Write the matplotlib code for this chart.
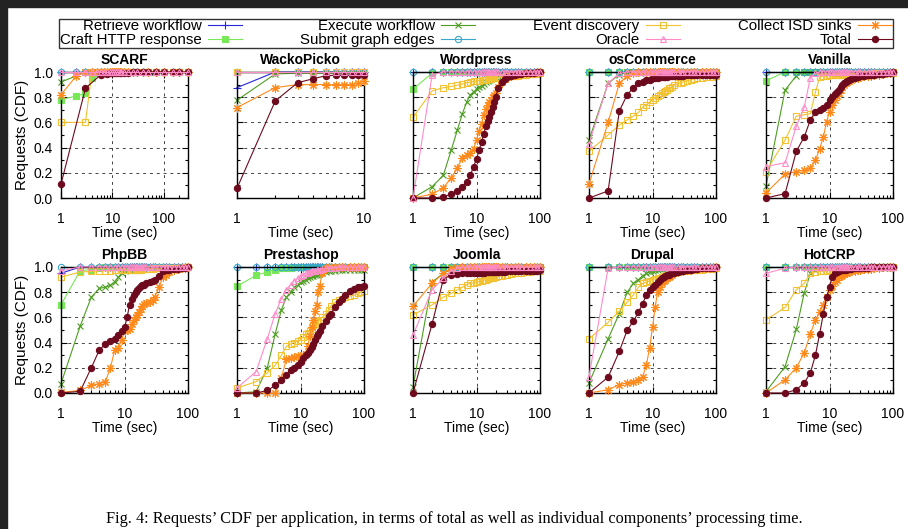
import numpy as np
import matplotlib.pyplot as plt
import matplotlib.ticker as ticker
from matplotlib.patches import Rectangle

plt.rcParams['font.family'] = ['Liberation Sans', 'DejaVu Sans']
plt.rcParams['font.size'] = 10

# x grids (seconds)
x_scarf = [1, 2, 3, 4, 5, 6, 7, 8, 9, 10,
           11, 12, 13, 14, 15, 17, 20, 25, 30, 40,
           50, 70, 100, 150, 200, 300]
x_wacko = [1, 2, 3, 4, 5, 6, 7, 8, 9, 10]
x_std = [1, 2, 3, 4, 5, 6, 7, 8, 9, 10,
         11, 12, 13, 14, 15, 16, 17, 18, 19, 20,
         22, 25, 28, 30, 35, 40, 45, 50, 60, 70, 80, 90, 100]

# SCARF
scarf_retrieve = [1, 1, 1, 1, 1, 1, 1, 1, 1, 1,
                  1, 1, 1, 1, 1, 1, 1, 1, 1, 1,
                  1, 1, 1, 1, 1, 1]
scarf_craft = [0.78, 0.81, 0.83, 0.95, 0.99, 1, 1, 1, 1, 1,
               1, 1, 1, 1, 1, 1, 1, 1, 1, 1,
               1, 1, 1, 1, 1, 1]
scarf_execute = [0.92, 0.97, 1, 1, 1, 1, 1, 1, 1, 1,
                 1, 1, 1, 1, 1, 1, 1, 1, 1, 1,
                 1, 1, 1, 1, 1, 1]
scarf_submit = [1, 1, 1, 1, 1, 1, 1, 1, 1, 1,
                1, 1, 1, 1, 1, 1, 1, 1, 1, 1,
                1, 1, 1, 1, 1, 1]
scarf_event = [0.6, None, 0.6, 1, 1, 1, 1, 1, 1, 1,
               1, 1, 1, 1, 1, 1, 1, 1, 1, 1,
               1, 1, 1, 1, 1, 1]
scarf_oracle = [1, 1, 1, 1, 1, 1, 1, 1, 1, 1,
                1, 1, 1, 1, 1, 1, 1, 1, 1, 1,
                1, 1, 1, 1, 1, 1]
scarf_collect = [0.82, 0.97, 1, 1, 1, 1, 1, 1, 1, 1,
                 1, 1, 1, 1, 1, 1, 1, 1, 1, 1,
                 1, 1, 1, 1, 1, 1]
scarf_total = [0.11, None, 0.87, None, None, 0.98, None, 0.985, 0.99, 0.99,
               0.99, 0.99, 0.99, 0.99, 0.99, 0.992, 0.995, 0.997, 1, 1,
               1, 1, 1, 1, 1, 1]

# WackoPicko
wacko_retrieve = [0.876, 1, 1, 1, 1, 1, 1, 1, 1, 1]
wacko_craft = [1, 1, 1, 1, 1, 1, 1, 1, 1, 1]
wacko_execute = [0.776, 0.985, 0.99, 0.99, 0.99, 0.99, 0.99, 0.99, 0.99, 1]
wacko_submit = [1, 1, 1, 1, 1, 1, 1, 1, 1, 1]
wacko_event = [1, 1, 1, 1, 1, 1, 1, 1, 1, 1]
wacko_oracle = [1, 1, 1, 1, 1, 1, 1, 1, 1, 1]
wacko_collect = [0.718, 0.876, 0.9, 0.9, 0.9, 0.9, 0.9, 0.9, 0.91, 0.93]
wacko_total = [0.077, 0.77, 0.915, 0.947, 0.97, 0.975, 0.975, 0.975, 0.975, 0.98]

# Wordpress
wp_retrieve = [1, 1, 1, 1, 1, 1, 1, 1, 1, 1,
               1, 1, 1, 1, 1, 1, 1, 1, 1, 1,
               1, 1, 1, 1, 1, 1, 1, 1, 1, 1, 1, 1, 1]
wp_craft = [0.865, 0.99, 1, 1, 1, 1, 1, 1, 1, 1,
            1, 1, 1, 1, 1, 1, 1, 1, 1, 1,
            1, 1, 1, 1, 1, 1, 1, 1, 1, 1, 1, 1, 1]
wp_execute = [0.0, 0.09, 0.18, 0.38, 0.54, 0.67, 0.76, 0.82, 0.84, 0.865,
              0.88, 0.89, 0.905, 0.92, 0.93, 0.94, 0.945, 0.95, 0.955, 0.96,
              0.965, 0.975, 0.978, 0.98, 0.985, 0.99, 0.992, 0.995, 1, 1, 1, 1, 1]
wp_submit = [1, 1, 1, 1, 1, 1, 1, 1, 1, 1,
             1, 1, 1, 1, 1, 1, 1, 1, 1, 1,
             1, 1, 1, 1, 1, 1, 1, 1, 1, 1, 1, 1, 1]
wp_event = [0.64, 0.85, 0.875, 0.885, 0.895, 0.905, 0.915, 0.92, 0.925, 0.93,
            0.932, 0.935, 0.937, 0.94, 0.942, 0.945, 0.947, 0.95, 0.952, 0.955,
            0.957, 0.96, 0.963, 0.965, 0.967, 0.97, 0.972, 0.975, 0.98, 0.982, 0.985, 0.987, 0.99]
wp_oracle = [0.0, 0.975, 1, 1, 1, 1, 1, 1, 1, 1,
             1, 1, 1, 1, 1, 1, 1, 1, 1, 1,
             1, 1, 1, 1, 1, 1, 1, 1, 1, 1, 1, 1, 1]
wp_collect = [0.0, 0.03, 0.08, 0.16, 0.24, 0.32, 0.34, 0.36, 0.39, 0.46,
              0.53, 0.59, 0.66, 0.71, 0.74, 0.76, 0.78, 0.8, 0.815, 0.83,
              0.88, 0.92, 0.945, 0.96, 0.97, 0.98, 0.985, 0.99, 0.99, 0.993, 0.995, 0.997, 1.0]
wp_total = [0.0, 0.0, 0.01, 0.03, 0.056, 0.088, 0.13, 0.18, 0.25, 0.31,
            0.38, 0.445, 0.51, 0.57, 0.61, 0.64, 0.68, 0.72, 0.76, 0.8,
            0.87, 0.92, 0.945, 0.96, 0.97, 0.98, 0.982, 0.985, 0.99, 0.992, 0.995, 0.997, 1.0]

# osCommerce
osc_retrieve = [1, 1, 1, 1, 1, 1, 1, 1, 1, 1,
                1, 1, 1, 1, 1, 1, 1, 1, 1, 1,
                1, 1, 1, 1, 1, 1, 1, 1, 1, 1, 1, 1, 1]
osc_craft = [1, 1, 1, 1, 1, 1, 1, 1, 1, 1,
             1, 1, 1, 1, 1, 1, 1, 1, 1, 1,
             1, 1, 1, 1, 1, 1, 1, 1, 1, 1, 1, 1, 1]
osc_execute = [0.46, 0.91, 0.98, 1, 1, 1, 1, 1, 1, 1,
               1, 1, 1, 1, 1, 1, 1, 1, 1, 1,
               1, 1, 1, 1, 1, 1, 1, 1, 1, 1, 1, 1, 1]
osc_submit = [1, 1, 1, 1, 1, 1, 1, 1, 1, 1,
              1, 1, 1, 1, 1, 1, 1, 1, 1, 1,
              1, 1, 1, 1, 1, 1, 1, 1, 1, 1, 1, 1, 1]
osc_event = [0.37, 0.5, 0.58, 0.62, 0.65, 0.68, 0.72, 0.74, 0.76, 0.78,
             0.795, 0.81, 0.82, 0.83, 0.84, 0.85, 0.86, 0.87, 0.875, 0.88,
             0.895, 0.91, 0.915, 0.92, 0.93, 0.94, 0.945, 0.95, 0.955, 0.958, 0.96, 0.962, 0.965]
osc_oracle = [0.43, 0.91, 0.99, 1, 1, 1, 1, 1, 1, 1,
              1, 1, 1, 1, 1, 1, 1, 1, 1, 1,
              1, 1, 1, 1, 1, 1, 1, 1, 1, 1, 1, 1, 1]
osc_collect = [0.11, 0.6, 0.91, 0.97, 0.99, 1, 1, 1, 1, 1,
               1, 1, 1, 1, 1, 1, 1, 1, 1, 1,
               1, 1, 1, 1, 1, 1, 1, 1, 1, 1, 1, 1, 1]
osc_total = [0.0, 0.056, 0.69, 0.82, 0.875, 0.91, 0.92, 0.935, 0.94, 0.95,
             0.952, 0.955, 0.957, 0.96, 0.961, 0.962, 0.963, 0.965, 0.966, 0.967,
             0.968, 0.97, 0.971, 0.972, 0.973, 0.975, 0.976, 0.977, 0.978, 0.979, 0.98, 0.98, 0.98]

# Vanilla
van_retrieve = [1, 1, 1, 1, 1, 1, 1, 1, 1, 1,
                1, 1, 1, 1, 1, 1, 1, 1, 1, 1,
                1, 1, 1, 1, 1, 1, 1, 1, 1, 1, 1, 1, 1]
van_craft = [0.93, 1, 1, 1, 1, 1, 1, 1, 1, 1,
             1, 1, 1, 1, 1, 1, 1, 1, 1, 1,
             1, 1, 1, 1, 1, 1, 1, 1, 1, 1, 1, 1, 1]
van_execute = [0.095, 0.857, 0.97, 1, 1, 1, 1, 1, 1, 1,
               1, 1, 1, 1, 1, 1, 1, 1, 1, 1,
               1, 1, 1, 1, 1, 1, 1, 1, 1, 1, 1, 1, 1]
van_submit = [1, 1, 1, 1, 1, 1, 1, 1, 1, 1,
              1, 1, 1, 1, 1, 1, 1, 1, 1, 1,
              1, 1, 1, 1, 1, 1, 1, 1, 1, 1, 1, 1, 1]
van_event = [0.21, 0.46, 0.65, 0.66, 0.67, 0.84, 0.96, 0.97, 0.97, 0.975,
             0.975, 0.975, 0.977, 0.98, 0.98, 0.98, 0.98, 0.98, 0.98, 0.98,
             0.982, 0.985, 0.985, 0.985, 0.985, 0.985, 0.987, 0.99, 0.99, 0.99, 0.99, 0.99, 0.99]
van_oracle = [0.25, 0.28, 0.57, 0.72, 0.955, 0.99, 1, 1, 1, 1,
              1, 1, 1, 1, 1, 1, 1, 1, 1, 1,
              1, 1, 1, 1, 1, 1, 1, 1, 1, 1, 1, 1, 1]
van_collect = [0.04, 0.19, 0.21, 0.22, 0.235, 0.3, 0.39, 0.485, 0.605, 0.685,
               0.74, 0.78, 0.81, 0.83, 0.86, 0.88, 0.895, 0.91, 0.92, 0.93,
               0.94, 0.95, 0.955, 0.96, 0.965, 0.97, 0.972, 0.975, 0.98, 0.985, 0.99, 0.995, 1.0]
van_total = [0.0, 0.035, 0.37, 0.485, 0.62, 0.685, 0.7, 0.715, 0.74, 0.78,
             0.8, 0.825, 0.845, 0.86, 0.88, 0.895, 0.91, 0.92, 0.93, 0.935,
             0.945, 0.955, 0.96, 0.965, 0.97, 0.975, 0.977, 0.98, 0.985, 0.987, 0.99, 0.995, 1.0]

# PhpBB
php_retrieve = [0.95, 1, 1, 1, 1, 1, 1, 1, 1, 1,
                1, 1, 1, 1, 1, 1, 1, 1, 1, 1,
                1, 1, 1, 1, 1, 1, 1, 1, 1, 1, 1, 1, 1]
php_craft = [0.7, 0.97, 0.98, 0.99, 1, 1, 1, 1, 1, 1,
             1, 1, 1, 1, 1, 1, 1, 1, 1, 1,
             1, 1, 1, 1, 1, 1, 1, 1, 1, 1, 1, 1, 1]
php_execute = [0.074, 0.53, 0.76, 0.83, 0.84, 0.855, 0.88, 0.92, 0.95, 0.97,
               0.975, 0.98, 0.985, 0.99, 0.99, 0.99, 0.995, 1, 1, 1,
               1, 1, 1, 1, 1, 1, 1, 1, 1, 1, 1, 1, 1]
php_submit = [1, 1, 1, 1, 1, 1, 1, 1, 1, 1,
              1, 1, 1, 1, 1, 1, 1, 1, 1, 1,
              1, 1, 1, 1, 1, 1, 1, 1, 1, 1, 1, 1, 1]
php_event = [0.92, 0.96, 0.965, 0.97, 0.97, 0.97, 0.975, 0.975, 0.975, 0.975,
             0.977, 0.98, 0.98, 0.98, 0.98, 0.98, 0.98, 0.98, 0.982, 0.985,
             0.985, 0.985, 0.987, 0.99, 0.99, 0.99, 0.99, 0.99, 0.99, 0.992, 0.995, 0.997, 1.0]
php_oracle = [0.97, 1, 1, 1, 1, 1, 1, 1, 1, 1,
              1, 1, 1, 1, 1, 1, 1, 1, 1, 1,
              1, 1, 1, 1, 1, 1, 1, 1, 1, 1, 1, 1, 1]
php_collect = [0.005, 0.02, 0.06, 0.074, 0.09, 0.2, 0.34, 0.355, 0.42, 0.495,
               0.5, 0.51, 0.55, 0.58, 0.6, 0.62, 0.645, 0.67, 0.69, 0.71,
               0.715, 0.72, 0.74, 0.76, 0.84, 0.92, 0.94, 0.96, 0.98, 0.985, 0.99, 0.995, 1.0]
php_total = [0.0, 0.013, 0.2, 0.34, 0.39, 0.41, 0.43, 0.46, 0.49, 0.52,
             0.6, 0.7, 0.75, 0.78, 0.8, 0.82, 0.835, 0.85, 0.855, 0.86,
             0.87, 0.88, 0.89, 0.9, 0.93, 0.97, 0.975, 0.98, 0.985, 0.987, 0.99, 0.995, 1.0]

# Prestashop
pre_retrieve = [1, 1, 1, 1, 1, 1, 1, 1, 1, 1,
                1, 1, 1, 1, 1, 1, 1, 1, 1, 1,
                1, 1, 1, 1, 1, 1, 1, 1, 1, 1, 1, 1, 1]
pre_craft = [0.847, 0.934, 0.96, 0.98, 0.99, 0.99, 0.99, 1, 1, 1,
             1, 1, 1, 1, 1, 1, 1, 1, 1, 1,
             1, 1, 1, 1, 1, 1, 1, 1, 1, 1, 1, 1, 1]
pre_execute = [0.0, 0.01, 0.2, 0.47, 0.66, 0.76, 0.8, 0.84, 0.86, 0.88,
               0.89, 0.9, 0.91, 0.92, 0.925, 0.93, 0.935, 0.94, 0.945, 0.95,
               0.955, 0.96, 0.965, 0.97, 0.972, 0.975, 0.977, 0.98, 0.98, 0.98, 0.98, 0.98, 0.98]
pre_submit = [1, 1, 1, 1, 1, 1, 1, 1, 1, 1,
              1, 1, 1, 1, 1, 1, 1, 1, 1, 1,
              1, 1, 1, 1, 1, 1, 1, 1, 1, 1, 1, 1, 1]
pre_event = [0.04, 0.09, 0.16, 0.22, 0.3, 0.37, 0.39, 0.4, 0.41, 0.42,
             0.445, 0.47, 0.48, 0.49, 0.51, 0.54, 0.55, 0.56, 0.57, 0.58,
             0.6, 0.63, 0.66, 0.69, 0.72, 0.74, 0.75, 0.76, 0.77, 0.775, 0.79, 0.8, 0.81]
pre_oracle = [0.04, 0.17, 0.43, 0.63, 0.75, 0.82, 0.86, 0.89, 0.91, 0.93,
              0.94, 0.95, 0.955, 0.96, 0.965, 0.97, 0.972, 0.975, 0.977, 0.98,
              0.985, 0.99, 0.99, 0.99, 0.995, 1, 1, 1, 1, 1, 1, 1, 1]
pre_collect = [0.0, 0.0, 0.0, 0.0, 0.12, 0.27, 0.28, 0.285, 0.29, 0.29,
               0.3, 0.31, 0.37, 0.45, 0.52, 0.58, 0.65, 0.7, 0.8, 0.85,
               0.95, 0.99, 1, 1, 1, 1, 1, 1, 1, 1, 1, 1, 1]
pre_total = [0.0, 0.0, 0.02, 0.06, 0.105, 0.145, 0.18, 0.2, 0.22, 0.25,
             0.275, 0.3, 0.32, 0.34, 0.365, 0.39, 0.42, 0.45, 0.47, 0.49,
             0.53, 0.57, 0.61, 0.63, 0.68, 0.72, 0.75, 0.78, 0.81, 0.825, 0.84, 0.845, 0.85]

# Joomla
joo_retrieve = [1, 1, 1, 1, 1, 1, 1, 1, 1, 1,
                1, 1, 1, 1, 1, 1, 1, 1, 1, 1,
                1, 1, 1, 1, 1, 1, 1, 1, 1, 1, 1, 1, 1]
joo_craft = [1, 1, 1, 1, 1, 1, 1, 1, 1, 1,
             1, 1, 1, 1, 1, 1, 1, 1, 1, 1,
             1, 1, 1, 1, 1, 1, 1, 1, 1, 1, 1, 1, 1]
joo_execute = [0.05, 0.88, 0.95, 0.98, 1, 1, 1, 1, 1, 1,
               1, 1, 1, 1, 1, 1, 1, 1, 1, 1,
               1, 1, 1, 1, 1, 1, 1, 1, 1, 1, 1, 1, 1]
joo_submit = [1, 1, 1, 1, 1, 1, 1, 1, 1, 1,
              1, 1, 1, 1, 1, 1, 1, 1, 1, 1,
              1, 1, 1, 1, 1, 1, 1, 1, 1, 1, 1, 1, 1]
joo_event = [0.62, 0.7, 0.76, 0.79, 0.82, 0.84, 0.86, 0.87, 0.875, 0.88,
             0.885, 0.89, 0.895, 0.9, 0.905, 0.91, 0.912, 0.915, 0.917, 0.92,
             0.925, 0.93, 0.935, 0.94, 0.945, 0.95, 0.952, 0.955, 0.96, 0.962, 0.965, 0.967, 0.97]
joo_oracle = [0.46, 0.82, 0.91, 0.97, 0.99, 1, 1, 1, 1, 1,
              1, 1, 1, 1, 1, 1, 1, 1, 1, 1,
              1, 1, 1, 1, 1, 1, 1, 1, 1, 1, 1, 1, 1]
joo_collect = [0.69, 0.87, 0.95, 0.99, 1, 1, 1, 1, 1, 1,
               1, 1, 1, 1, 1, 1, 1, 1, 1, 1,
               1, 1, 1, 1, 1, 1, 1, 1, 1, 1, 1, 1, 1]
joo_total = [0.0, 0.55, 0.9, 0.94, 0.945, 0.95, 0.95, 0.95, 0.952, 0.955,
             0.955, 0.955, 0.956, 0.957, 0.958, 0.96, 0.96, 0.96, 0.96, 0.96,
             0.961, 0.962, 0.964, 0.965, 0.966, 0.967, 0.968, 0.97, 0.97, 0.97, 0.97, 0.972, 0.975]

# Drupal
dru_retrieve = [1, 1, 1, 1, 1, 1, 1, 1, 1, 1,
                1, 1, 1, 1, 1, 1, 1, 1, 1, 1,
                1, 1, 1, 1, 1, 1, 1, 1, 1, 1, 1, 1, 1]
dru_craft = [1, 1, 1, 1, 1, 1, 1, 1, 1, 1,
             1, 1, 1, 1, 1, 1, 1, 1, 1, 1,
             1, 1, 1, 1, 1, 1, 1, 1, 1, 1, 1, 1, 1]
dru_execute = [0.08, 0.43, 0.63, 0.8, 0.87, 0.9, 0.93, 0.95, 0.96, 0.97,
               0.975, 0.98, 0.985, 0.99, 0.99, 0.99, 0.995, 1, 1, 1,
               1, 1, 1, 1, 1, 1, 1, 1, 1, 1, 1, 1, 1]
dru_submit = [1, 1, 1, 1, 1, 1, 1, 1, 1, 1,
              1, 1, 1, 1, 1, 1, 1, 1, 1, 1,
              1, 1, 1, 1, 1, 1, 1, 1, 1, 1, 1, 1, 1]
dru_event = [0.43, 0.56, 0.65, 0.72, 0.78, 0.84, 0.87, 0.88, 0.89, 0.9,
             0.905, 0.91, 0.915, 0.92, 0.925, 0.93, 0.935, 0.94, 0.945, 0.95,
             0.955, 0.96, 0.965, 0.97, 0.972, 0.975, 0.977, 0.98, 0.98, 0.982, 0.985, 0.987, 0.99]
dru_oracle = [0.13, 0.99, 1, 1, 1, 1, 1, 1, 1, 1,
              1, 1, 1, 1, 1, 1, 1, 1, 1, 1,
              1, 1, 1, 1, 1, 1, 1, 1, 1, 1, 1, 1, 1]
dru_collect = [0.0, 0.026, 0.066, 0.08, 0.09, 0.105, 0.13, 0.22, 0.36, 0.52,
               0.68, 0.8, 0.84, 0.87, 0.885, 0.9, 0.91, 0.92, 0.93, 0.94,
               0.95, 0.96, 0.965, 0.97, 0.975, 0.98, 0.982, 0.985, 0.99, 0.992, 0.995, 0.997, 1.0]
dru_total = [0.0, 0.126, 0.33, 0.5, 0.57, 0.64, 0.71, 0.78, 0.82, 0.84,
             0.86, 0.88, 0.895, 0.91, 0.92, 0.93, 0.935, 0.94, 0.945, 0.95,
             0.955, 0.96, 0.965, 0.97, 0.975, 0.98, 0.982, 0.985, 0.99, 0.99, 0.99, 0.995, 1.0]

# HotCRP
hot_retrieve = [1, 1, 1, 1, 1, 1, 1, 1, 1, 1,
                1, 1, 1, 1, 1, 1, 1, 1, 1, 1,
                1, 1, 1, 1, 1, 1, 1, 1, 1, 1, 1, 1, 1]
hot_craft = [1, 1, 1, 1, 1, 1, 1, 1, 1, 1,
             1, 1, 1, 1, 1, 1, 1, 1, 1, 1,
             1, 1, 1, 1, 1, 1, 1, 1, 1, 1, 1, 1, 1]
hot_execute = [0.01, 0.21, 0.505, 0.795, 0.95, 0.98, 0.99, 1, 1, 1,
               1, 1, 1, 1, 1, 1, 1, 1, 1, 1,
               1, 1, 1, 1, 1, 1, 1, 1, 1, 1, 1, 1, 1]
hot_submit = [1, 1, 1, 1, 1, 1, 1, 1, 1, 1,
              1, 1, 1, 1, 1, 1, 1, 1, 1, 1,
              1, 1, 1, 1, 1, 1, 1, 1, 1, 1, 1, 1, 1]
hot_event = [0.58, 0.68, 0.82, 0.87, 0.95, 0.96, 0.965, 0.97, 0.97, 0.975,
             0.977, 0.98, 0.98, 0.98, 0.982, 0.985, 0.985, 0.985, 0.987, 0.99,
             0.99, 0.99, 0.99, 0.99, 0.992, 0.995, 0.997, 1, 1, 1, 1, 1, 1]
hot_oracle = [0.95, 0.99, 1, 1, 1, 1, 1, 1, 1, 1,
              1, 1, 1, 1, 1, 1, 1, 1, 1, 1,
              1, 1, 1, 1, 1, 1, 1, 1, 1, 1, 1, 1, 1]
hot_collect = [0.0, 0.105, 0.2, 0.32, 0.47, 0.58, 0.645, 0.7, 0.76, 0.82,
               0.85, 0.88, 0.9, 0.92, 0.93, 0.94, 0.945, 0.95, 0.955, 0.96,
               0.965, 0.97, 0.975, 0.98, 0.982, 0.985, 0.987, 0.99, 0.995, 1, 1, 1, 1]
hot_total = [0.0, 0.0, 0.026, 0.08, 0.16, 0.3, 0.47, 0.63, 0.76, 0.84,
             0.92, 0.95, 0.96, 0.97, 0.975, 0.98, 0.98, 0.98, 0.982, 0.985,
             0.987, 0.99, 0.99, 0.99, 0.992, 0.995, 0.997, 1, 1, 1, 1, 1, 1]

LABELS = ["Retrieve workflow", "Craft HTTP response", "Execute workflow", "Submit graph edges",
          "Event discovery", "Oracle", "Collect ISD sinks", "Total"]
COLORS = ["#2626dc", "#78e858", "#4e9e22", "#38a8cc", "#f2c232", "#ff8cc8", "#ff8a1c", "#6e0a1e"]
MARKERS = ["+", "s", "x", "o", "s", "^", (8, 2, 0), "o"]
FILLED = [True, True, True, False, False, False, True, True]
MSIZE = [6, 4, 4.5, 4.5, 5, 4.5, 6, 4.5]
ZORD = [2.1, 2.2, 2.3, 2.4, 2.5, 2.9, 2.6, 2.7]

PANELS = [
    ("SCARF", x_scarf, 300, [scarf_retrieve, scarf_craft, scarf_execute, scarf_submit, scarf_event, scarf_oracle, scarf_collect, scarf_total]),
    ("WackoPicko", x_wacko, 10, [wacko_retrieve, wacko_craft, wacko_execute, wacko_submit, wacko_event, wacko_oracle, wacko_collect, wacko_total]),
    ("Wordpress", x_std, 100, [wp_retrieve, wp_craft, wp_execute, wp_submit, wp_event, wp_oracle, wp_collect, wp_total]),
    ("osCommerce", x_std, 100, [osc_retrieve, osc_craft, osc_execute, osc_submit, osc_event, osc_oracle, osc_collect, osc_total]),
    ("Vanilla", x_std, 100, [van_retrieve, van_craft, van_execute, van_submit, van_event, van_oracle, van_collect, van_total]),
    ("PhpBB", x_std, 100, [php_retrieve, php_craft, php_execute, php_submit, php_event, php_oracle, php_collect, php_total]),
    ("Prestashop", x_std, 100, [pre_retrieve, pre_craft, pre_execute, pre_submit, pre_event, pre_oracle, pre_collect, pre_total]),
    ("Joomla", x_std, 100, [joo_retrieve, joo_craft, joo_execute, joo_submit, joo_event, joo_oracle, joo_collect, joo_total]),
    ("Drupal", x_std, 100, [dru_retrieve, dru_craft, dru_execute, dru_submit, dru_event, dru_oracle, dru_collect, dru_total]),
    ("HotCRP", x_std, 100, [hot_retrieve, hot_craft, hot_execute, hot_submit, hot_event, hot_oracle, hot_collect, hot_total]),
]

W, H = 908, 529
fig = plt.figure(figsize=(W / 100, H / 100), dpi=100)

col_left = [61, 237, 413, 589, 766]
row_bottom = [198, 393]
ax_w, ax_h = 127, 126

handles = []
for i, (name, xs, xmax, series) in enumerate(PANELS):
    r, c = divmod(i, 5)
    ax = fig.add_axes([col_left[c] / W, 1 - row_bottom[r] / H, ax_w / W, ax_h / H])
    ax.set_xscale("log")
    ax.set_xlim(1, xmax)
    ax.set_ylim(0, 1)
    ax.set_axisbelow(True)
    xarr = np.array(xs, dtype=float)
    for k, ys in enumerate(series):
        if len(ys) != len(xs):
            raise ValueError(f"{name} {LABELS[k]}: {len(ys)} values for {len(xs)} x")
        yarr = np.array([np.nan if v is None else v for v in ys], dtype=float)
        ok = ~np.isnan(yarr)
        ln, = ax.plot(xarr[ok], yarr[ok], color=COLORS[k], lw=0.8,
                      marker=MARKERS[k], markersize=MSIZE[k],
                      markerfacecolor=COLORS[k] if FILLED[k] else "none",
                      markeredgecolor=COLORS[k], markeredgewidth=0.8,
                      clip_on=False, zorder=ZORD[k], label=LABELS[k])
        if i == 0:
            handles.append(ln)
    ax.set_xticks([t for t in (1, 10, 100) if t <= xmax])
    ax.xaxis.set_major_formatter(ticker.FuncFormatter(lambda v, p: f"{v:g}"))
    ax.xaxis.set_minor_formatter(ticker.NullFormatter())
    ax.set_yticks([0.0, 0.2, 0.4, 0.6, 0.8, 1.0])
    ax.yaxis.set_minor_locator(ticker.MultipleLocator(0.1))
    ax.grid(True, which="major", linestyle=(0, (3, 4)), color="#444444", lw=0.7)
    ax.tick_params(which="both", direction="in", top=True, right=True, width=0.8)
    ax.tick_params(which="major", length=4)
    ax.tick_params(which="minor", length=2)
    ax.tick_params(axis="x", pad=10)
    ax.tick_params(axis="y", pad=6)
    if c == 0:
        ax.yaxis.set_major_formatter(ticker.FormatStrFormatter("%.1f"))
        ax.set_ylabel("Requests (CDF)", labelpad=3, fontsize=11)
    else:
        ax.set_yticklabels([])
    ax.set_xlabel("Time (sec)", labelpad=0)
    ax.set_title(name, fontweight="bold", fontsize=10, pad=6)
    for sp in ax.spines.values():
        sp.set_linewidth(1.0)

fig.legend(handles, LABELS, ncol=4, markerfirst=False, mode="expand",
           bbox_to_anchor=(59 / W, 1 - 48 / H, (893 - 59) / W, 31 / H),
           loc="lower left", fontsize=10.8, frameon=True, fancybox=False,
           edgecolor="#333333", framealpha=1, borderpad=0.05, labelspacing=0.0,
           handlelength=2.3, handletextpad=0.4, borderaxespad=0)

fig.text(0.5, 1 - 519 / H,
         "Fig. 4: Requests\u2019 CDF per application, in terms of total as well as individual components\u2019 processing time.",
         ha="center", va="center", family=["Liberation Serif", "DejaVu Serif"], fontsize=11.7)

# dark screenshot border
fig.add_artist(Rectangle((0, 1 - 7 / H), 1, 7 / H, transform=fig.transFigure, color="#232323", zorder=10))
fig.add_artist(Rectangle((0, 0), 7 / W, 1, transform=fig.transFigure, color="#232323", zorder=10))

fig.savefig("out.png", dpi=100)
plt.close(fig)
